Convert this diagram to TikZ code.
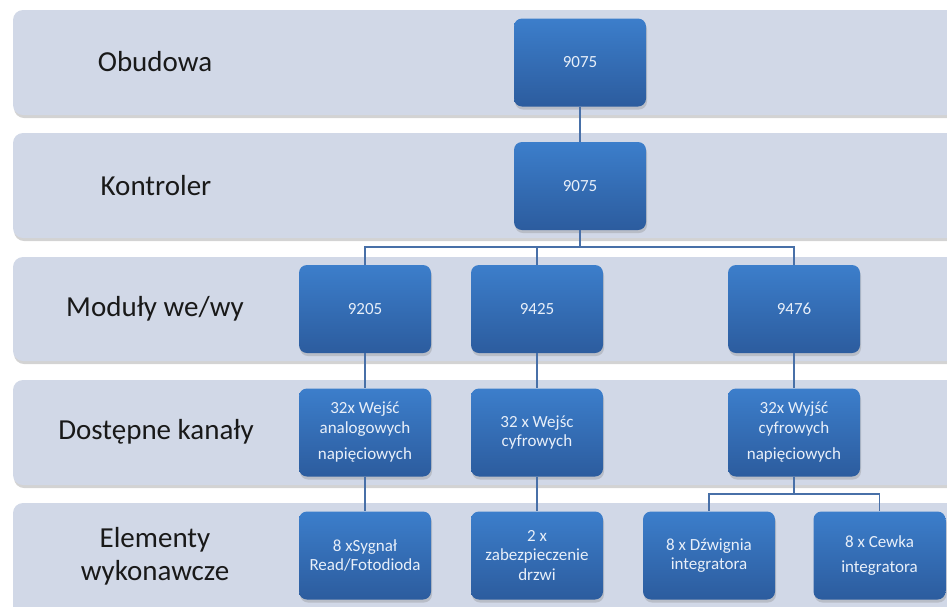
\documentclass[tikz,border=0pt]{standalone}
\usepackage{fontspec}
\setmainfont{Carlito}
\usepackage{tikz}
\usetikzlibrary{shadows}

\definecolor{lanegray}{RGB}{209,216,231}
\definecolor{boxtop}{RGB}{60,126,203}
\definecolor{boxbot}{RGB}{44,92,158}
\definecolor{wireblue}{RGB}{72,112,168}
\definecolor{boxtext}{RGB}{232,239,249}

\tikzset{
  lane/.style={fill=lanegray, rounded corners=10pt,
    drop shadow={shadow xshift=1pt, shadow yshift=-3pt, opacity=0.35}},
  lanelabel/.style={align=center, text=black!90,
    font=\fontsize{29}{33}\selectfont},
  unitbox/.style={minimum width=132pt, minimum height=88pt, inner sep=2pt,
    rounded corners=8pt, top color=boxtop, bottom color=boxbot,
    align=center, text=boxtext, font=\fontsize{17}{19.5}\selectfont,
    drop shadow={shadow xshift=1pt, shadow yshift=-3pt, opacity=0.3}},
  wire/.style={draw=wireblue, line width=1.8pt}
}

\begin{document}
\begin{tikzpicture}[x=1pt,y=-1pt]
\useasboundingbox (0,0) rectangle (947,606);
\clip (0,0) rectangle (947,606);

% pasy poziomow
\path[lane] (13,10) rectangle (975,115);
\path[lane] (13,133) rectangle (975,238);
\path[lane] (13,257) rectangle (975,361);
\path[lane] (13,380) rectangle (975,485);
\path[lane] (13,503) rectangle (975,640);

\node[lanelabel] (obudowa) at (155,62) {Obudowa};
\node[lanelabel] (kontroler) at (156,186) {Kontroler};
\node[lanelabel] (moduly) at (155,309) {Moduły we/wy};
\node[lanelabel] (kanaly) at (156,432) {Dostępne kanały};
\node[lanelabel] (elementy) at (155,556) {Elementy\\wykonawcze};

% bloki
\node[unitbox] (obud) at (580,62.5) {9075};
\node[unitbox] (kontr) at (580,186) {9075};

\node[unitbox] (m9205) at (365,309) {9205};
\node[unitbox] (m9425) at (537,309) {9425};
\node[unitbox] (m9476) at (794,309) {9476};

\node[unitbox] (kan1) at (365,432.5) {32x Wejść\\analogowych\\[7pt]napięciowych};
\node[unitbox] (kan2) at (537,432.5) {32 x Wejśc\\cyfrowych};
\node[unitbox] (kan3) at (794,432.5) {32x Wyjść\\cyfrowych\\[7pt]napięciowych};

\node[unitbox] (el1) at (365,555.5) {8 xSygnał\\Read/Fotodioda};
\node[unitbox] (el2) at (537,555.5) {2 x\\zabezpieczenie\\drzwi};
\node[unitbox] (el3) at (709,555.5) {8 x Dźwignia\\integratora};
\node[unitbox] (el4) at (879.5,555.5) {8 x Cewka\\[6pt]integratora};

% polaczenia
\coordinate (rozg1) at ([yshift=-17pt]kontr.south);
\coordinate (rozg2) at ([yshift=-17.5pt]kan3.south);
\draw[wire] (obud) -- (kontr);
\draw[wire] (kontr.south) -- (rozg1);
\draw[wire] (rozg1) -| (m9205.north);
\draw[wire] (rozg1) -| (m9425.north);
\draw[wire] (rozg1) -| (m9476.north);
\draw[wire] (m9205) -- (kan1);
\draw[wire] (m9425) -- (kan2);
\draw[wire] (m9476) -- (kan3);
\draw[wire] (kan1) -- (el1);
\draw[wire] (kan2) -- (el2);
\draw[wire] (kan3.south) -- (rozg2);
\draw[wire] (rozg2) -| (el3.north);
\draw[wire] (rozg2) -| (el4.north);
\end{tikzpicture}
\end{document}
